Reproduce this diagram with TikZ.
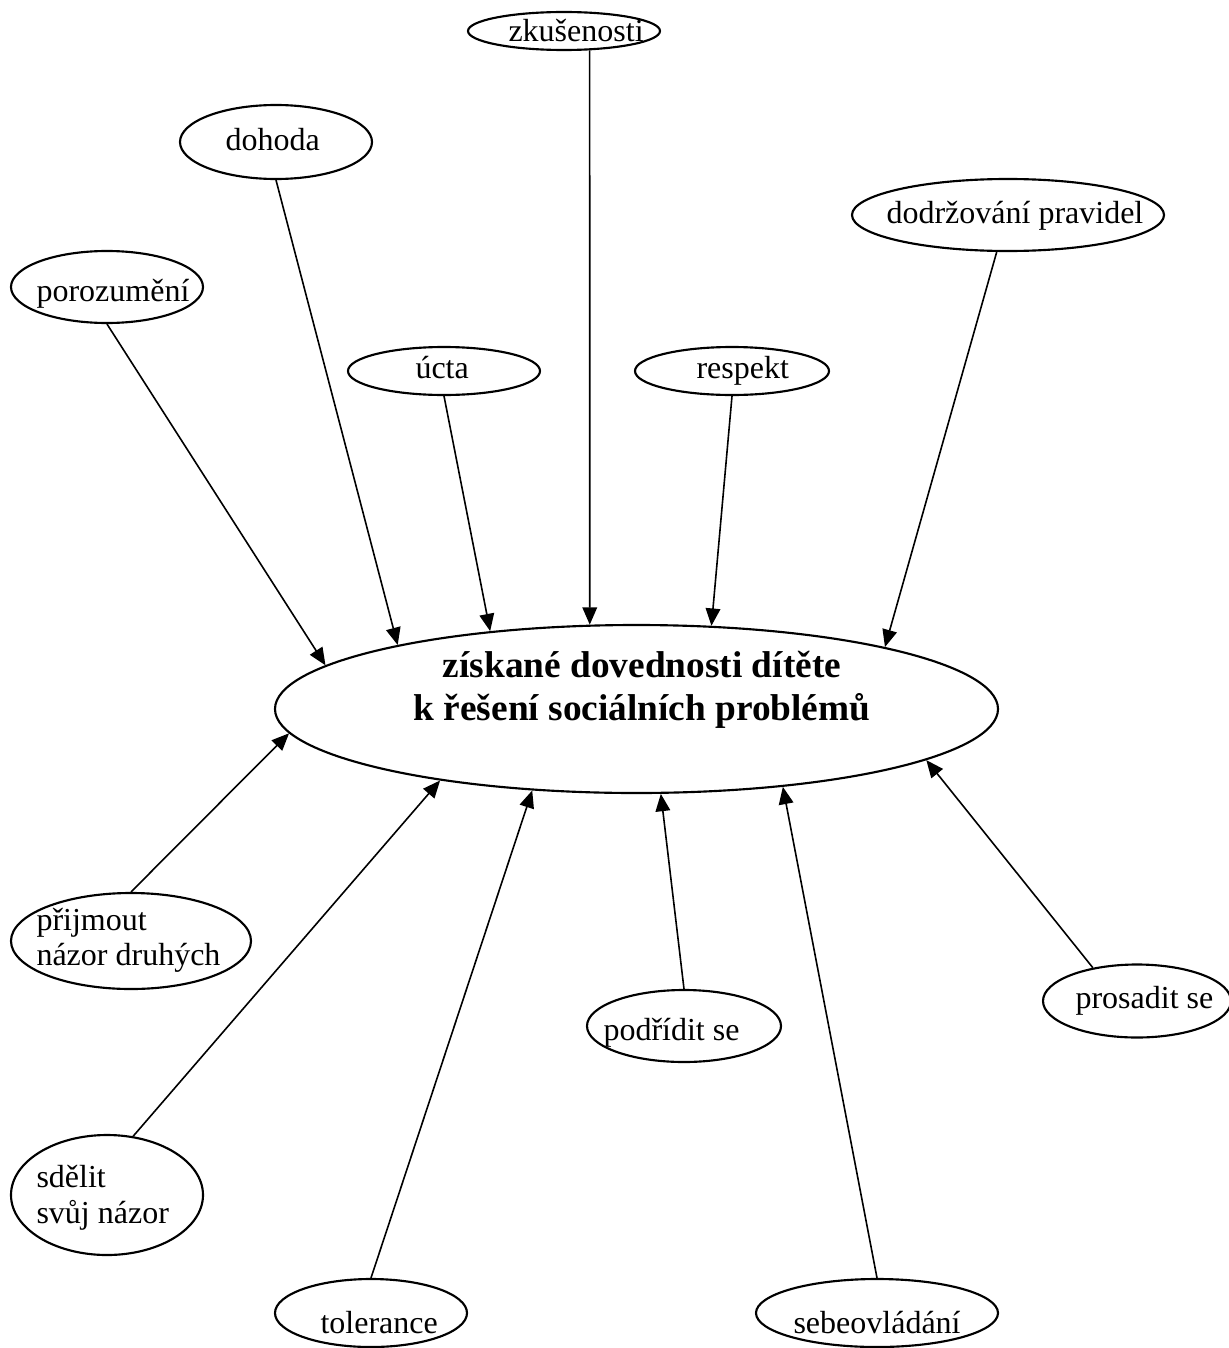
\documentclass[tikz,border=0pt]{standalone}
\usepackage{fontspec}
\setmainfont{Liberation Serif}
\usetikzlibrary{arrows.meta,shapes.geometric}
\begin{document}
\begin{tikzpicture}[x=0.375pt, y=-0.375pt,
  ell/.style={draw, ellipse, line width=0.8pt, inner sep=0pt},
  esz/.style 2 args={minimum width=#1*0.75pt, minimum height=#2*0.75pt},
  lbl/.style={font=\fontsize{12}{14}\selectfont, anchor=base west, inner sep=0pt},
  big/.style={font=\fontsize{14}{16}\selectfont\bfseries, anchor=base, inner sep=0pt},
  arr/.style={line width=0.6pt, -{Triangle[length=6.5pt,width=5.5pt]}}]
\useasboundingbox (0,0) rectangle (1229,1348);

% ellipses
\node[ell, esz={96}{19}] (zk) at (564,31) {};
\node[ell, esz={96}{37}] (doh) at (276,142) {};
\node[ell, esz={96}{36}] (por) at (107,287) {};
\node[ell, esz={96}{24}] (uct) at (444,371) {};
\node[ell, esz={97}{24}] (res) at (732,371) {};
\node[ell, esz={156}{36}] (dod) at (1008,215) {};
\node[ell, esz={361.5}{84}] (main) at (636.5,709) {};
\node[ell, esz={120}{48}] (pri) at (131,941) {};
\node[ell, esz={96}{60}] (sde) at (107,1195) {};
\node[ell, esz={96}{34}] (tol) at (371,1313) {};
\node[ell, esz={97}{36}] (pod) at (684,1026) {};
\node[ell, esz={121}{34}] (seb) at (877,1313) {};
\node[ell, esz={94}{36.5}] (pro) at (1137,1001) {};

% texts
\node[lbl] (tzk) at (508,42) {zkušenosti};
\node[lbl] (tdoh) at (225,151) {dohoda};
\node[lbl] (tpor) at (36,301) {porozumění};
\node[lbl] (tuct) at (415,378) {úcta};
\node[lbl] (tres) at (696,378) {respekt};
\node[lbl] (tdod) at (886,223) {dodržování pravidel};
\node[big] (tm1) at (642,677) {získané dovednosti dítěte};
\node[big] (tm2) at (642,720) {k řešení sociálních problémů};
\node[lbl] (tpri1) at (36,930) {přijmout};
\node[lbl] (tpri2) at (36,965) {názor druhých};
\node[lbl] (tsde1) at (36,1187) {sdělit};
\node[lbl] (tsde2) at (36,1223) {svůj názor};
\node[lbl] (ttol) at (320,1333) {tolerance};
\node[lbl] (tpod) at (603,1040) {podřídit se};
\node[lbl] (tseb) at (793,1333) {sebeovládání};
\node[lbl] (tpro) at (1075,1008) {prosadit se};

% connectors
\draw[arr] (zk.323.8) -- (main.119.7);
\draw[arr] (doh.south) -- (main.165.6);
\draw[arr] (por.south) -- (main.172.9);
\draw[arr] (uct.south) -- (main.152.1);
\draw[arr] (res.south) -- (main.48.6);
\draw[arr] (dod.253) -- (main.14.3);
\draw[arr] (pri.north) -- (main.184.7);
\draw[arr] (sde.66.6) -- (main.200.3);
\draw[arr] (tol.north) -- (main.218.8);
\draw[arr] (pod.north) -- (main.286.3);
\draw[arr] (seb.north) -- (main.332.5);
\draw[arr] (pro.143.7) -- (main.350.5);
\end{tikzpicture}
\end{document}
